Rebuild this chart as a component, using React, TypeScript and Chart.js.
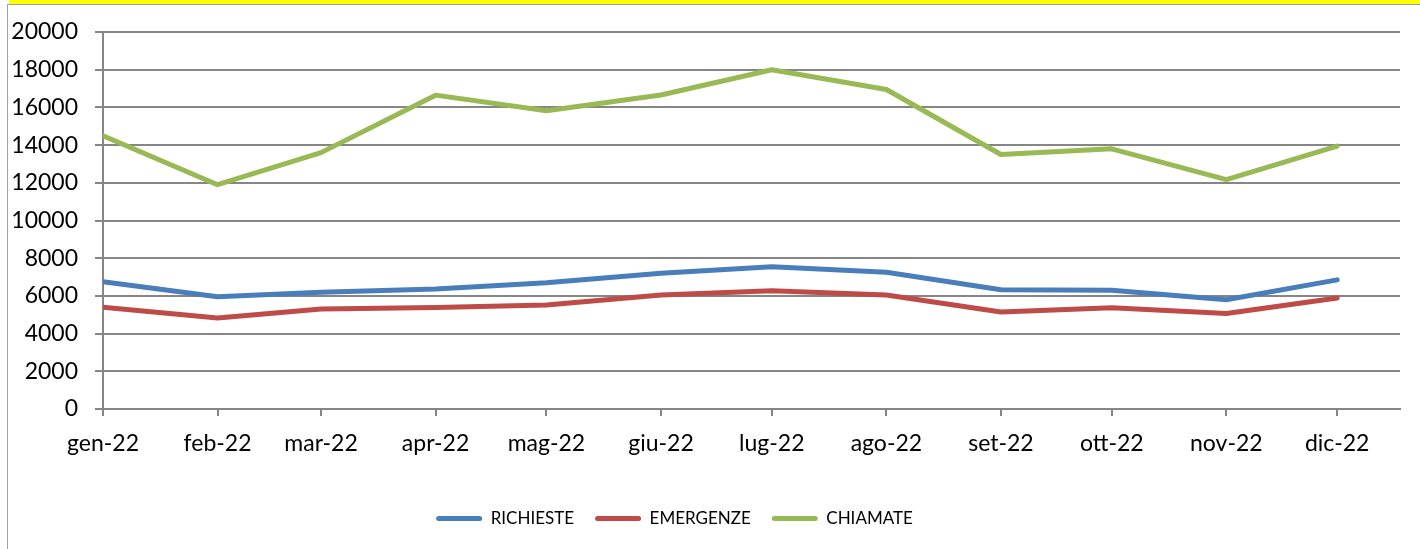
import React, { useEffect, useRef } from "react";
import { Chart, registerables } from "chart.js";

Chart.register(...registerables);

const months = ["gen-22", "feb-22", "mar-22", "apr-22", "mag-22", "giu-22", "lug-22", "ago-22", "set-22", "ott-22", "nov-22", "dic-22"];
const monthStartDays = [0, 31, 59, 90, 120, 151, 181, 212, 243, 273, 304, 334];
const richieste = [6750, 5950, 6200, 6370, 6700, 7200, 7550, 7250, 6330, 6300, 5800, 6850];
const emergenze = [5400, 4830, 5300, 5380, 5520, 6050, 6270, 6050, 5150, 5370, 5070, 5890];
const chiamate = [14500, 11900, 13600, 16650, 15820, 16660, 18000, 16950, 13500, 13800, 12170, 13950];
const seriesNames = ["RICHIESTE", "EMERGENZE", "CHIAMATE"];
const seriesColors = ["#4A7EBB", "#BE4B48", "#98B954"];
const yTicks = [0, 2000, 4000, 6000, 8000, 10000, 12000, 14000, 16000, 18000, 20000];

const GRID = "#868686";
const FONT = "Lato";

const legendShift = {
  id: "legendShift",
  afterLayout(chart: any) {
    if (chart.legend) {
      chart.legend.left -= 30;
      chart.legend.right -= 30;
    }
  },
};

export default function App() {
  const ref = useRef<HTMLCanvasElement | null>(null);

  useEffect(() => {
    if (!ref.current) return;
    const toPoints = (arr: number[]) => arr.map((v, i) => ({ x: monthStartDays[i], y: v }));
    const allSeries = [richieste, emergenze, chiamate];
    const chart = new Chart(ref.current, {
      type: "line",
      data: {
        datasets: allSeries.map((s, i) => ({
          label: seriesNames[i],
          data: toPoints(s),
          borderColor: seriesColors[i],
          backgroundColor: seriesColors[i],
          borderWidth: 5,
          pointRadius: 0,
          tension: 0,
          borderCapStyle: "round" as const,
          borderJoinStyle: "round" as const,
        })),
      },
      plugins: [legendShift],
      options: {
        animation: false,
        responsive: false,
        maintainAspectRatio: false,
        layout: { padding: { left: 0, right: 20, top: 27, bottom: 12 } },
        plugins: {
          tooltip: { enabled: false },
          legend: {
            position: "bottom",
            labels: {
              boxWidth: 46,
              boxHeight: 5,
              useBorderRadius: true,
              borderRadius: 2.5,
              padding: 21,
              color: "#000",
              font: { family: FONT, size: 17 },
              generateLabels: (c: any) =>
                c.data.datasets.map((d: any, i: number) => ({
                  text: d.label,
                  fillStyle: seriesColors[i],
                  strokeStyle: seriesColors[i],
                  lineWidth: 0,
                  fontColor: "#000",
                  datasetIndex: i,
                  hidden: false,
                  borderRadius: 2.5,
                })),
            },
          },
        },
        scales: {
          x: {
            type: "linear",
            min: 0,
            max: 351,
            afterBuildTicks: (scale: any) => {
              scale.ticks = monthStartDays.map((v) => ({ value: v }));
            },
            afterFit: (scale: any) => {
              scale.height = 80;
            },
            ticks: {
              autoSkip: false,
              maxRotation: 0,
              padding: 14,
              color: "#000",
              font: { family: FONT, size: 23 },
              callback: (v: any) => {
                const idx = monthStartDays.indexOf(Number(v));
                return idx >= 0 ? months[idx] : "";
              },
            },
            grid: {
              display: true,
              drawOnChartArea: false,
              drawTicks: true,
              tickLength: 7,
              color: GRID,
              lineWidth: 2,
            },
            border: { display: true, color: GRID, width: 2 },
          },
          y: {
            min: 0,
            max: 20000,
            afterBuildTicks: (scale: any) => {
              scale.ticks = yTicks.map((v) => ({ value: v }));
            },
            afterFit: (scale: any) => {
              scale.width = 94;
              scale.paddingTop = 0;
              scale.paddingBottom = 0;
            },
            ticks: {
              padding: 17,
              color: "#000",
              font: { family: FONT, size: 23 },
              callback: (v: any) => String(v),
            },
            grid: {
              display: true,
              drawOnChartArea: true,
              drawTicks: true,
              tickLength: 8,
              color: GRID,
              lineWidth: 2,
            },
            border: { display: true, color: GRID, width: 2 },
          },
        },
      },
    });
    return () => chart.destroy();
  }, []);

  return (
    <div style={{ position: "absolute", left: 0, top: 0, width: 1420, height: 549, overflow: "hidden", background: "#fff" }}>
      <div style={{ position: "absolute", left: 9, top: 0, width: 1411, height: 4, background: "#FFFF00" }} />
      <div
        style={{
          position: "absolute",
          left: 7,
          top: 4,
          width: 1413,
          height: 545,
          borderTop: "1px solid #a0a0a0",
          borderLeft: "1px solid #a0a0a0",
          boxSizing: "border-box",
        }}
      />
      <div style={{ position: "absolute", left: 9, top: 5, width: 1411, height: 544 }}>
        <canvas ref={ref} width={1411} height={544} style={{ width: 1411, height: 544, display: "block" }} />
      </div>
    </div>
  );
}
